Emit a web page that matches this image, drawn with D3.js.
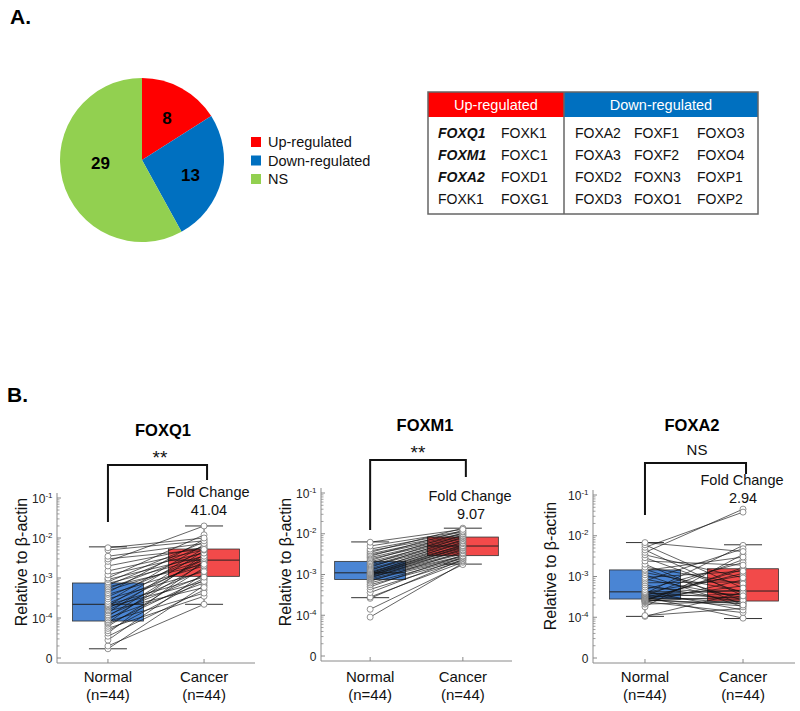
<!DOCTYPE html>
<html><head><meta charset="utf-8">
<script src="https://cdn.jsdelivr.net/npm/d3@7"></script>
<style>body{margin:0;background:#fff}svg{display:block;font-family:Arial,"Liberation Sans",sans-serif}</style>
</head><body>
<svg id="chart" width="800" height="711"></svg>
<script>
// ---------- DATA ----------
const pieCategories = ["Up-regulated", "Down-regulated", "NS"];
const pieValues = [8, 13, 29];
const pieColors = ["#ff0000", "#0070c0", "#92d050"];

const tableHeaders = ["Up-regulated", "Down-regulated"];
const upGenes = [["FOXQ1", "FOXK1"], ["FOXM1", "FOXC1"], ["FOXA2", "FOXD1"], ["FOXK1", "FOXG1"]];
const upHighlightedRows = [0, 1, 2];
const downGenes = [["FOXA2", "FOXF1", "FOXO3"], ["FOXA3", "FOXF2", "FOXO4"], ["FOXD2", "FOXN3", "FOXP1"], ["FOXD3", "FOXO1", "FOXP2"]];

const groups = ["Normal", "Cancer"];
const groupN = ["(n=44)", "(n=44)"];
const geneNames = ["FOXQ1", "FOXM1", "FOXA2"];
const significance = ["**", "**", "NS"];
const foldChange = ["41.04", "9.07", "2.94"];
const yTickValues = [1e-5, 1e-4, 1e-3, 1e-2, 1e-1];
const yTickBase = ["0", "10", "10", "10", "10"];
const yTickExp = ["", "-4", "-3", "-2", "-1"];

// box stats: [lower whisker, Q1, median, Q3, upper whisker]
const foxq1NormalBox = [1.7e-5, 8.4e-5, 2.2e-4, 7.5e-4, 6.0e-3];
const foxq1CancerBox = [2.2e-4, 1.1e-3, 2.8e-3, 5.3e-3, 2.0e-2];
const foxm1NormalBox = [2.7e-4, 7.5e-4, 1.1e-3, 2.1e-3, 6.3e-3];
const foxm1CancerBox = [1.8e-3, 2.9e-3, 5.0e-3, 8.3e-3, 1.37e-2];
const foxa2NormalBox = [1.05e-4, 2.8e-4, 4.2e-4, 1.45e-3, 6.8e-3];
const foxa2CancerBox = [9.3e-5, 2.5e-4, 4.4e-4, 1.55e-3, 6.0e-3];

// paired samples (index i in Normal pairs with index i in Cancer)
const foxq1Normal = [1.7e-5, 2.0e-5, 2.8e-5, 3.5e-5, 4.2e-5, 4.8e-5, 5.5e-5, 6.2e-5, 7.0e-5, 7.6e-5, 8.2e-5,
  9.0e-5, 1.0e-4, 1.1e-4, 1.2e-4, 1.35e-4, 1.5e-4, 1.6e-4, 1.75e-4, 1.9e-4, 2.0e-4, 2.15e-4,
  2.3e-4, 2.6e-4, 3.0e-4, 3.4e-4, 3.9e-4, 4.3e-4, 4.9e-4, 5.4e-4, 6.0e-4, 6.6e-4, 7.3e-4,
  8.0e-4, 9.2e-4, 1.0e-3, 1.2e-3, 1.5e-3, 2.0e-3, 2.6e-3, 3.0e-3, 3.5e-3, 5.0e-3, 5.7e-3];
const foxq1Cancer = [6.5e-4, 2.2e-4, 1.3e-3, 5.0e-4, 2.65e-3, 9.0e-4, 3.5e-4, 1.8e-3, 9.8e-4, 3.9e-3, 4.2e-4,
  2.35e-3, 7.5e-4, 3.3e-3, 1.15e-3, 4.8e-3, 5.8e-4, 1.6e-3, 2.9e-3, 8.2e-4, 5.5e-3, 1.05e-3,
  2.5e-3, 6.8e-3, 1.45e-3, 3.7e-3, 2.0e-3, 9.2e-3, 2.75e-3, 4.5e-3, 2.2e-3, 6.3e-3, 3.1e-3,
  7.9e-3, 3.5e-3, 1.2e-2, 4.2e-3, 5.0e-3, 5.9e-3, 2.0e-2, 5.2e-3, 7.3e-3, 8.5e-3, 1.0e-2];

const foxm1Normal = [9.0e-5, 1.4e-4, 2.6e-4, 2.8e-4, 3.6e-4, 4.3e-4, 5.0e-4, 5.6e-4, 6.2e-4, 6.8e-4, 7.3e-4,
  7.8e-4, 8.2e-4, 8.6e-4, 8.9e-4, 9.2e-4, 9.5e-4, 9.8e-4, 1.0e-3, 1.03e-3, 1.06e-3, 1.09e-3,
  1.12e-3, 1.18e-3, 1.25e-3, 1.32e-3, 1.4e-3, 1.5e-3, 1.6e-3, 1.7e-3, 1.8e-3, 1.9e-3, 2.05e-3,
  2.2e-3, 2.4e-3, 2.6e-3, 2.8e-3, 3.0e-3, 3.2e-3, 3.5e-3, 3.8e-3, 4.2e-3, 5.0e-3, 6.2e-3];
const foxm1Cancer = [1.9e-3, 1.75e-3, 2.35e-3, 2.0e-3, 2.65e-3, 2.15e-3, 3.0e-3, 2.25e-3, 2.45e-3, 3.6e-3, 2.55e-3,
  2.75e-3, 4.2e-3, 2.85e-3, 3.2e-3, 4.8e-3, 3.4e-3, 3.8e-3, 5.4e-3, 4.0e-3, 4.4e-3, 6.3e-3,
  4.6e-3, 4.95e-3, 7.2e-3, 5.1e-3, 5.7e-3, 8.2e-3, 6.0e-3, 6.6e-3, 9.3e-3, 6.9e-3, 7.6e-3,
  1.05e-2, 7.9e-3, 8.5e-3, 1.2e-2, 8.9e-3, 9.7e-3, 1.37e-2, 1.0e-2, 1.1e-2, 1.15e-2, 1.28e-2];

const foxa2Normal = [1.05e-4, 1.1e-4, 1.8e-4, 2.1e-4, 2.3e-4, 2.4e-4, 2.5e-4, 2.55e-4, 2.6e-4, 2.7e-4, 2.75e-4,
  2.85e-4, 2.95e-4, 3.05e-4, 3.15e-4, 3.25e-4, 3.35e-4, 3.5e-4, 3.65e-4, 3.8e-4, 3.95e-4, 4.1e-4,
  4.3e-4, 4.8e-4, 5.5e-4, 6.2e-4, 7.0e-4, 7.8e-4, 8.6e-4, 9.5e-4, 1.1e-3, 1.25e-3, 1.4e-3,
  1.5e-3, 1.7e-3, 2.0e-3, 2.4e-3, 2.9e-3, 3.4e-3, 3.9e-3, 4.5e-3, 5.2e-3, 6.0e-3, 6.8e-3];
const foxa2Cancer = [4.1e-4, 1.65e-4, 3.5e-3, 2.45e-4, 8.3e-4, 1.3e-4, 3.2e-4, 1.65e-3, 2.2e-4, 1.5e-3, 1.9e-4,
  5.9e-4, 2.75e-4, 1.2e-3, 9.5e-5, 3.7e-4, 2.6e-3, 2.1e-4, 4.6e-4, 5.8e-3, 2.9e-4, 1.05e-3,
  1.5e-4, 2.2e-3, 3.5e-4, 2.3e-4, 7.4e-4, 4.8e-3, 3.05e-4, 1.35e-3, 1.8e-4, 4.3e-4, 3.0e-3,
  2.6e-4, 6.6e-4, 2.0e-4, 1.9e-3, 3.9e-4, 9.3e-4, 4.5e-2, 3.35e-4, 3.8e-2, 5.2e-4, 4.1e-3];

const panelData = [
  {normal: foxq1Normal, cancer: foxq1Cancer, boxes: [foxq1NormalBox, foxq1CancerBox]},
  {normal: foxm1Normal, cancer: foxm1Cancer, boxes: [foxm1NormalBox, foxm1CancerBox]},
  {normal: foxa2Normal, cancer: foxa2Cancer, boxes: [foxa2NormalBox, foxa2CancerBox]}
];

// ---------- LAYOUT ----------
const layout = [
  {x0: 57, x1: 255, yTop: 498, yBot: 658, labelX: 21, labelY: 562, titleX: 163, titleY: 436, sigX: 160, sigY: 464, brTop: 465, brL: 522, brR: 480, fcX: 208, fcY: 497},
  {x0: 321, x1: 512, yTop: 493, yBot: 656, labelX: 285, labelY: 562, titleX: 425, titleY: 431, sigX: 418, sigY: 459, brTop: 460, brL: 530, brR: 477, fcX: 470, fcY: 501},
  {x0: 593, x1: 795, yTop: 495, yBot: 658, labelX: 550, labelY: 566, titleX: 692, titleY: 431, sigX: 697, sigY: 455, brTop: 463, brL: 515, brR: 474, fcX: 742, fcY: 485}
];
const pieLabelShift = [[1, 2], [0, 2], [7, -10]];
const boxColors = ["#4a85d4", "#f24a4a"];

const svg = d3.select("#chart");

// ---------- PANEL A ----------
svg.append("text").attr("x", 10).attr("y", 24).attr("font-size", 21).attr("font-weight", "bold").text("A.");

const pie = d3.pie().sort(null).value(d => d)(pieValues);
const arc = d3.arc().innerRadius(0).outerRadius(82);
const labelArc = d3.arc().innerRadius(50).outerRadius(50);
const pieG = svg.append("g").attr("transform", "translate(142,160)");
pieG.selectAll("path").data(pie).join("path").attr("d", arc).attr("fill", (d, i) => pieColors[i]);
pieG.selectAll("text").data(pie).join("text")
  .attr("transform", (d, i) => { const c = labelArc.centroid(d); return `translate(${c[0] + pieLabelShift[i][0]},${c[1] + pieLabelShift[i][1]})`; })
  .attr("text-anchor", "middle").attr("dy", "0.36em")
  .attr("font-size", 17).attr("font-weight", "bold").text(d => d.data);

const legend = svg.append("g").attr("transform", "translate(251,142)");
const lg = legend.selectAll("g").data(pieCategories).join("g").attr("transform", (d, i) => `translate(0,${i * 18.5})`);
lg.append("rect").attr("x", 0).attr("y", -5).attr("width", 10).attr("height", 10).attr("fill", (d, i) => pieColors[i]);
lg.append("text").attr("x", 17).attr("y", 5).attr("font-size", 14.5).attr("fill", "#111").text(d => d);

// table
const tX = 428, tY = 92, tW = 330, tHead = 25, tH = 122, tDiv = 564;
const tbl = svg.append("g");
tbl.append("rect").attr("x", tX).attr("y", tY).attr("width", tDiv - tX).attr("height", tHead).attr("fill", pieColors[0]);
tbl.append("rect").attr("x", tDiv).attr("y", tY).attr("width", tX + tW - tDiv).attr("height", tHead).attr("fill", pieColors[1]);
tbl.append("rect").attr("x", tX).attr("y", tY).attr("width", tW).attr("height", tH).attr("fill", "none").attr("stroke", "#666").attr("stroke-width", 1.5);
tbl.append("line").attr("x1", tDiv).attr("x2", tDiv).attr("y1", tY).attr("y2", tY + tH).attr("stroke", "#666").attr("stroke-width", 1.5);
tbl.selectAll("text.h").data(tableHeaders).join("text").attr("class", "h")
  .attr("x", (d, i) => i === 0 ? (tX + tDiv) / 2 : (tDiv + tX + tW) / 2).attr("y", tY + 18)
  .attr("text-anchor", "middle").attr("font-size", 14.5).attr("fill", "#fff").text(d => d);
const upColX = [438, 501], downColX = [575, 634, 697];
upGenes.forEach((row, r) => row.forEach((g, c) => {
  const hl = c === 0 && upHighlightedRows.includes(r);
  tbl.append("text").attr("x", upColX[c]).attr("y", 138 + r * 22).attr("font-size", 14)
    .attr("font-weight", hl ? "bold" : "normal").attr("font-style", hl ? "italic" : "normal").attr("fill", "#111").text(g);
}));
downGenes.forEach((row, r) => row.forEach((g, c) => {
  tbl.append("text").attr("x", downColX[c]).attr("y", 138 + r * 22).attr("font-size", 14).attr("fill", "#111").text(g);
}));

// ---------- PANEL B ----------
svg.append("text").attr("x", 7).attr("y", 402).attr("font-size", 21).attr("font-weight", "bold").text("B.");

panelData.forEach((pd, p) => {
  const L = layout[p];
  const g = svg.append("g");
  const y = d3.scaleLog().domain([1e-5, 1e-1]).range([L.yBot, L.yTop]);
  const x = d3.scalePoint().domain(groups).range([L.x0, L.x1]).padding(0.53);
  const axisColor = "#8a8a8a";

  // axes
  g.append("line").attr("x1", L.x0).attr("x2", L.x0).attr("y1", L.yTop - 5).attr("y2", L.yBot + 5).attr("stroke", axisColor);
  g.append("line").attr("x1", L.x0).attr("x2", L.x1).attr("y1", L.yBot + 5).attr("y2", L.yBot + 5).attr("stroke", axisColor);
  const minor = [];
  for (let e = -5; e < -1; e++) for (let k = 2; k <= 9; k++) minor.push(k * Math.pow(10, e));
  g.selectAll("line.minor").data(minor).join("line").attr("class", "minor")
    .attr("x1", L.x0).attr("x2", L.x0 + 2.5).attr("y1", d => y(d)).attr("y2", d => y(d)).attr("stroke", axisColor).attr("stroke-width", 0.8);
  g.selectAll("line.major").data(yTickValues).join("line").attr("class", "major")
    .attr("x1", L.x0).attr("x2", L.x0 + 4).attr("y1", d => y(d)).attr("y2", d => y(d)).attr("stroke", axisColor);
  const tl = g.selectAll("text.tick").data(yTickValues).join("text").attr("class", "tick")
    .attr("x", L.x0 - 4.5).attr("y", d => y(d) + 4.5).attr("text-anchor", "end").attr("font-size", 12).attr("fill", "#222");
  tl.append("tspan").text((d, i) => yTickBase[i]);
  tl.append("tspan").attr("dy", -5).attr("font-size", 8).text((d, i) => yTickExp[i]);
  g.selectAll("line.xt").data(groups).join("line").attr("class", "xt")
    .attr("x1", d => x(d)).attr("x2", d => x(d)).attr("y1", L.yBot + 5).attr("y2", L.yBot + 1).attr("stroke", axisColor);

  // y label
  g.append("text").attr("transform", `translate(${L.labelX},${L.labelY}) rotate(-90)`)
    .attr("text-anchor", "middle").attr("dy", "0.35em").attr("font-size", 16).attr("fill", "#111").text("Relative to β-actin");

  // x labels
  g.selectAll("text.xl").data(groups).join("text").attr("class", "xl")
    .attr("x", d => x(d)).attr("y", 682).attr("text-anchor", "middle").attr("font-size", 15).attr("fill", "#111").text(d => d);
  g.selectAll("text.xn").data(groupN).join("text").attr("class", "xn")
    .attr("x", (d, i) => x(groups[i])).attr("y", 700).attr("text-anchor", "middle").attr("font-size", 15).attr("fill", "#111").text(d => d);

  // title, significance bracket, fold change
  g.append("text").attr("x", L.titleX).attr("y", L.titleY).attr("text-anchor", "middle").attr("font-size", 16.5).attr("font-weight", "bold").text(geneNames[p]);
  g.append("text").attr("x", L.sigX).attr("y", L.sigY).attr("text-anchor", "middle")
    .attr("font-size", significance[p] === "NS" ? 15 : 19).attr("fill", "#111").text(significance[p]);
  const bx1 = x(groups[0]), bx2 = x(groups[1]) + 3;
  g.append("path").attr("d", `M${bx1},${L.brL}V${L.brTop}H${bx2}V${L.brR}`).attr("fill", "none").attr("stroke", "#111").attr("stroke-width", 2);
  g.append("text").attr("x", L.fcX).attr("y", L.fcY).attr("text-anchor", "middle").attr("font-size", 14.5).attr("fill", "#111").text("Fold Change");
  g.append("text").attr("x", L.fcX + 1).attr("y", L.fcY + 18).attr("text-anchor", "middle").attr("font-size", 14.5).attr("fill", "#111").text(foldChange[p]);

  // boxes
  const bw = 71, cw = 38;
  pd.boxes.forEach((b, i) => {
    const cx = x(groups[i]);
    g.append("line").attr("x1", cx).attr("x2", cx).attr("y1", y(b[0])).attr("y2", y(b[4])).attr("stroke", "#333").attr("stroke-width", 0.8);
    g.append("rect").attr("x", cx - bw / 2).attr("y", y(b[3])).attr("width", bw).attr("height", y(b[1]) - y(b[3]))
      .attr("fill", boxColors[i]).attr("stroke", "#333").attr("stroke-width", 0.8);
    g.append("line").attr("x1", cx - bw / 2).attr("x2", cx + bw / 2).attr("y1", y(b[2])).attr("y2", y(b[2])).attr("stroke", "#222").attr("stroke-width", 1);
    [b[0], b[4]].forEach(v => g.append("line").attr("x1", cx - cw / 2).attr("x2", cx + cw / 2).attr("y1", y(v)).attr("y2", y(v)).attr("stroke", "#333").attr("stroke-width", 1));
  });

  // paired lines
  const pairs = pd.normal.map((v, i) => [v, pd.cancer[i]]);
  g.selectAll("line.pair").data(pairs).join("line").attr("class", "pair")
    .attr("x1", x(groups[0])).attr("x2", x(groups[1])).attr("y1", d => y(d[0])).attr("y2", d => y(d[1]))
    .attr("stroke", "#111").attr("stroke-width", 0.65);

  // points
  [pd.normal, pd.cancer].forEach((arr, i) => {
    g.selectAll(null).data(arr).join("circle").attr("cx", x(groups[i])).attr("cy", d => y(d)).attr("r", 3)
      .attr("fill", "#fff").attr("stroke", "#777").attr("stroke-width", 0.8);
  });
});
</script>
</body></html>
